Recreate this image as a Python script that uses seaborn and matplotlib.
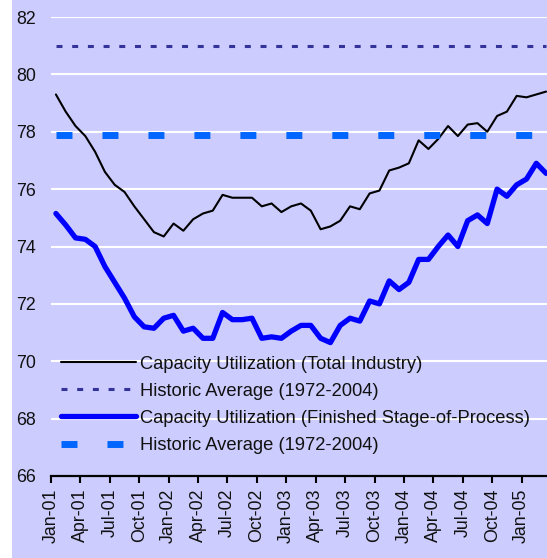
import numpy as np
import pandas as pd
import matplotlib
matplotlib.use("Agg")
import matplotlib.pyplot as plt
import seaborn as sns
from matplotlib.patches import Rectangle

# ---- data (monthly, Jan-2001 .. Mar-2005) ----
total_industry = [79.3, 78.7, 78.2, 77.85, 77.3, 76.6, 76.15, 75.9, 75.4, 74.95,
                  74.5, 74.35, 74.8, 74.55, 74.95, 75.15, 75.25, 75.8, 75.7, 75.7,
                  75.7, 75.4, 75.5, 75.2, 75.4, 75.5, 75.25, 74.6, 74.7, 74.9,
                  75.4, 75.3, 75.85, 75.95, 76.65, 76.75, 76.9, 77.7, 77.4, 77.75,
                  78.2, 77.85, 78.25, 78.3, 78.0, 78.55, 78.7, 79.25, 79.2, 79.3,
                  79.4]
finished_stage = [75.15, 74.75, 74.3, 74.25, 74.0, 73.3, 72.75, 72.2, 71.55, 71.2,
                  71.15, 71.5, 71.6, 71.05, 71.15, 70.8, 70.8, 71.7, 71.45, 71.45,
                  71.5, 70.8, 70.85, 70.8, 71.05, 71.25, 71.25, 70.8, 70.65, 71.25,
                  71.5, 71.4, 72.1, 72.0, 72.8, 72.5, 72.75, 73.55, 73.55, 74.0,
                  74.4, 74.0, 74.9, 75.1, 74.8, 76.0, 75.75, 76.15, 76.35, 76.9,
                  76.55]
hist_avg_total = 81.0
hist_avg_finished = 77.9

tick_labels = ["Jan-01", "Apr-01", "Jul-01", "Oct-01", "Jan-02", "Apr-02", "Jul-02",
               "Oct-02", "Jan-03", "Apr-03", "Jul-03", "Oct-03", "Jan-04", "Apr-04",
               "Jul-04", "Oct-04", "Jan-05"]
series_labels = ["Capacity Utilization (Total Industry)",
                 "Historic Average (1972-2004)",
                 "Capacity Utilization (Finished Stage-of-Process)",
                 "Historic Average (1972-2004)"]

n = len(total_industry)
df = pd.DataFrame({
    "pos": np.arange(n) + 0.5,
    "total": total_industry,
    "hist_total": [hist_avg_total] * n,
    "finished": finished_stage,
    "hist_finished": [hist_avg_finished] * n,
})

# ---- style ----
BG = "#CCCCFF"
sns.set_style("white")
plt.rcParams["font.family"] = ["Liberation Sans", "DejaVu Sans"]
plt.rcParams["lines.scale_dashes"] = False

fig = plt.figure(figsize=(5.47, 5.58), dpi=100, facecolor="white")
bg = Rectangle((12 / 547, 0), 1, 1, transform=fig.transFigure,
               facecolor=BG, edgecolor="none", zorder=-10)
fig.patches.append(bg)
ax = fig.add_axes([51 / 547, 82 / 558, 500 / 547, 459 / 558])
ax.set_zorder(1)
ax.set_facecolor(BG)

sns.lineplot(data=df, x="pos", y="total", ax=ax, color="black", lw=1.5,
             label=series_labels[0], solid_joinstyle="round")
sns.lineplot(data=df, x="pos", y="hist_total", ax=ax, color="#333399", lw=2.2,
             ls=(0, (4.3, 7.0)), label=series_labels[1])
sns.lineplot(data=df, x="pos", y="finished", ax=ax, color="#0000FF", lw=3.8,
             label=series_labels[2])
sns.lineplot(data=df, x="pos", y="hist_finished", ax=ax, color="#0066FF", lw=5.0,
             ls=(0, (11.5, 21.6)), label=series_labels[3])

ax.set_xlim(0, n)
ax.set_ylim(66, 82)
ax.set_yticks(np.arange(66, 83, 2))
ax.set_xticks(np.arange(0, 3 * len(tick_labels), 3))
ax.set_xticklabels(tick_labels, rotation=90)
ax.set_xlabel("")
ax.set_ylabel("")

ax.set_axisbelow(True)
ax.yaxis.grid(True, color="white", lw=1.5)
ax.xaxis.grid(False)
for s in ["left", "right", "top"]:
    ax.spines[s].set_visible(False)
ax.spines["bottom"].set_color("black")
ax.spines["bottom"].set_linewidth(1.6)

ax.tick_params(axis="y", length=0, pad=11, labelsize=12.8, labelcolor="#111111")
ax.tick_params(axis="x", direction="out", length=5, width=1.5, color="black",
               pad=4, labelsize=12.8, labelcolor="#111111", bottom=True)

leg = ax.legend(loc="upper left", bbox_to_anchor=(0.02, 0.262), frameon=False,
                borderpad=0, borderaxespad=0, fontsize=13.2, handlelength=4.1,
                handletextpad=0.22, labelspacing=0.55)
for t in leg.get_texts():
    t.set_color("#111111")

fig.savefig("out.png", dpi=100)
